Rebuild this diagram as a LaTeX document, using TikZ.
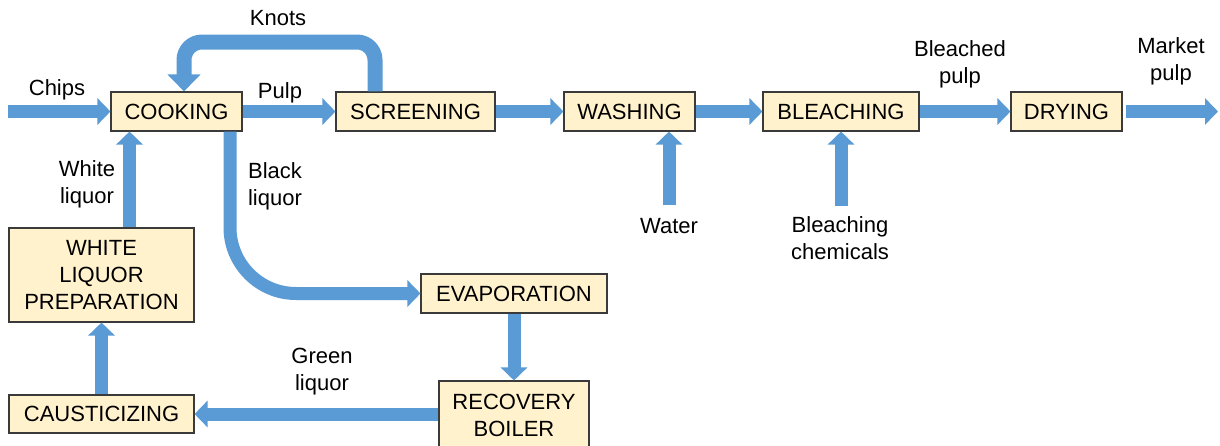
\documentclass[tikz,border=0pt]{standalone}
\usepackage{fontspec}
\setmainfont{Liberation Sans}
\usetikzlibrary{arrows.meta}
\definecolor{flow}{HTML}{5B9BD5}
\definecolor{boxfill}{HTML}{FFF2CC}
\definecolor{boxline}{HTML}{3A3A3A}
\begin{document}
\begin{tikzpicture}[x=1pt,y=-1pt,
  font=\fontsize{22}{27}\selectfont,
  stage/.style={draw=boxline,line width=1.1pt,fill=boxfill,inner sep=0pt,align=center,minimum height=39pt},
  lbl/.style={inner sep=0pt,align=center},
  flowarrow/.style={draw=flow,line width=13pt,-{Triangle[width=26pt,length=13pt]}},
  flowline/.style={draw=flow,line width=13pt}]
\clip (0,0) rectangle (1220,445);
\fill[white] (0,0) rectangle (1220,445);
% stages
\node[stage,minimum width=131pt] (cook)   at (176.5,111.5) {COOKING};
\node[stage,minimum width=159pt] (screen) at (415.5,111.5) {SCREENING};
\node[stage,minimum width=131pt] (wash)   at (629.5,111.5) {WASHING};
\node[stage,minimum width=156pt] (bleach) at (841,111.5) {BLEACHING};
\node[stage,minimum width=111pt] (dry)    at (1066.5,111.5) {DRYING};
\node[stage,minimum width=185pt,minimum height=94pt] (wlp) at (101.5,275) {WHITE\\LIQUOR\\PREPARATION};
\node[stage,minimum width=185pt,minimum height=38pt] (caus) at (101.5,414) {CAUSTICIZING};
\node[stage,minimum width=186pt] (evap) at (514,293.5) {EVAPORATION};
\node[stage,minimum width=150pt,minimum height=69pt] (rb) at (514,415.5) {RECOVERY\\BOILER};
% free ends and turning points
\coordinate (chipsin) at (8,111.5);
\coordinate (mktout) at (1218,111.5);
\coordinate (waterin) at (669,205);
\coordinate (chemin) at (841,206);
\coordinate (wx) at (129.5,0);
\coordinate (bx) at (230,0);
\coordinate (ktr) at (375,42);
\coordinate (ktl) at (184,42);
% connectors
\draw[flowarrow] (chipsin) -- (cook.west);
\draw[flowarrow] (cook.east) -- (screen.west);
\draw[flowarrow] (screen.east) -- (wash.west);
\draw[flowarrow] (wash.east) -- (bleach.west);
\draw[flowarrow] (bleach.east) -- (dry.west);
\draw[flowarrow] ([xshift=3pt]dry.east) -- (mktout);
\draw[flowarrow] (waterin) -- (wash.south -| waterin);
\draw[flowarrow] (chemin) -- (bleach.south -| chemin);
\draw[flowarrow,line width=15pt,-{Triangle[width=32pt,length=17pt]},rounded corners=18pt]
  (screen.north -| ktr) -- (ktr) -- (ktl) -- (cook.north -| ktl);
\draw[flowarrow,rounded corners=66pt] (cook.south -| bx) |- (evap.west);
\draw[flowarrow] (evap.south) -- (rb.north);
\draw[flowarrow] (caus.east -| rb.west) -- (caus.east);
\draw[flowarrow] (caus.north) -- (wlp.south);
\draw[flowarrow] (wlp.north -| wx) -- (cook.south -| wx);
% labels
\node[lbl,anchor=base] (lchips) at (57,95) {Chips};
\node[lbl,anchor=base] (lknots) at (278,25) {Knots};
\node[lbl,anchor=base] (lpulp) at (280,98) {Pulp};
\node[lbl] (lwhite) at (87,184) {White\\liquor};
\node[lbl] (lblack) at (275,186) {Black\\liquor};
\node[lbl] (lgreen) at (322,372) {Green\\liquor};
\node[lbl,anchor=base] (lwater) at (669,233) {Water};
\node[lbl] (lchem) at (840,238) {Bleaching\\chemicals};
\node[lbl] (lbleached) at (960,64) {Bleached\\pulp};
\node[lbl] (lmarket) at (1171,61) {Market\\pulp};
\end{tikzpicture}
\end{document}
